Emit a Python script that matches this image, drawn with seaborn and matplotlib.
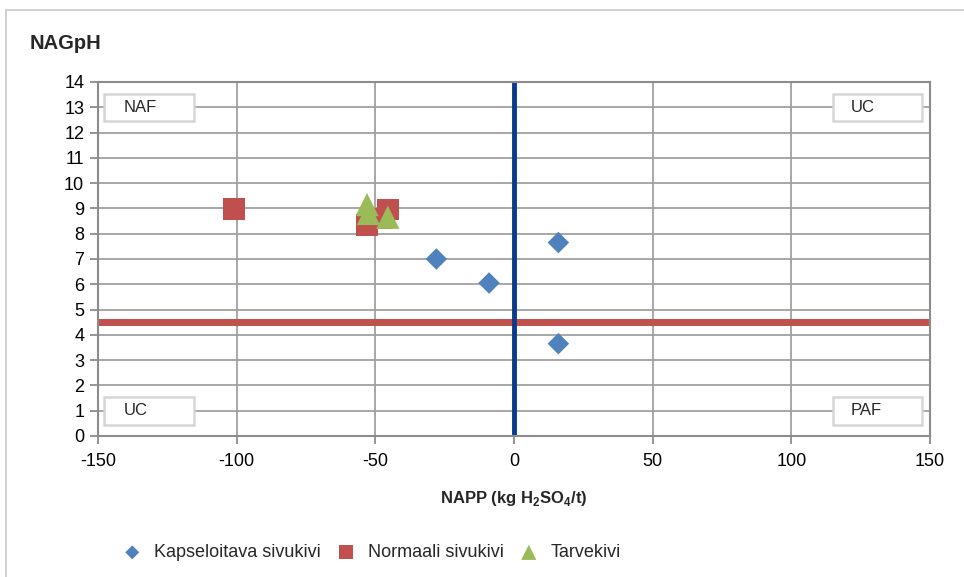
import pandas as pd
import numpy as np
import matplotlib
matplotlib.use("Agg")
import matplotlib.pyplot as plt
import seaborn as sns
from matplotlib.patches import Rectangle

sns.set_style("white")
plt.rcParams['font.family'] = ['Liberation Sans', 'DejaVu Sans']
plt.rcParams['mathtext.fontset'] = 'custom'
plt.rcParams['mathtext.rm'] = 'Liberation Sans'
plt.rcParams['mathtext.bf'] = 'Liberation Sans:bold'
plt.rcParams['axes.unicode_minus'] = False

# values
kaps_napp = [-28, -9, 16, 16]
kaps_nag = [7.0, 6.05, 7.65, 3.65]
norm_napp = [-101, -53, -48, -45.5]
norm_nag = [8.97, 8.35, 8.6, 8.95]
tarv_napp = [-53, -52.5, -45.5]
tarv_nag = [9.15, 8.8, 8.65]

groups = ['Kapseloitava sivukivi', 'Normaali sivukivi', 'Tarvekivi']
x_ticks = [-150, -100, -50, 0, 50, 100, 150]
y_ticks = list(range(0, 15))
nag_limit = 4.5
napp_limit = 0

data = pd.DataFrame({
    'NAPP': kaps_napp + norm_napp + tarv_napp,
    'NAGpH': kaps_nag + norm_nag + tarv_nag,
    'group': [groups[0]] * len(kaps_napp) + [groups[1]] * len(norm_napp) + [groups[2]] * len(tarv_napp),
})

palette = {groups[0]: '#4F81BD', groups[1]: '#C0504D', groups[2]: '#9BBB59'}
markers = {groups[0]: 'D', groups[1]: 's', groups[2]: '^'}
sizes = {groups[0]: 120, groups[1]: 240, groups[2]: 280}

fig = plt.figure(figsize=(9.64, 5.77), dpi=100)
ax = fig.add_axes([0.1017, 0.2444, 0.863, 0.6135])

# outer chart frame
fig.patches.append(Rectangle((0.006, -0.01), 1.0, 0.993, transform=fig.transFigure,
                             fill=False, edgecolor='#c8c8c8', linewidth=1.2))

ax.axhline(nag_limit, color='#C0504D', linewidth=5, zorder=2)
ax.axvline(napp_limit, color='#0A3A8A', linewidth=3.5, zorder=2)

for g in groups:
    sub = data[data['group'] == g]
    sns.scatterplot(data=sub, x='NAPP', y='NAGpH', ax=ax, color=palette[g],
                    marker=markers[g], s=sizes[g], edgecolor='none',
                    label=g, zorder=3)

ax.set_xlim(-150, 150)
ax.set_ylim(0, 14)
ax.set_xticks(x_ticks)
ax.set_yticks(y_ticks)
ax.grid(True, color='#a0a0a0', linewidth=1.3)
ax.set_axisbelow(True)
for sp in ax.spines.values():
    sp.set_color('#8c8c8c')
    sp.set_linewidth(1.5)
ax.tick_params(axis='both', labelsize=13, colors='#8c8c8c', labelcolor='black',
               length=6, width=1.3, direction='out', bottom=True, left=True)
ax.tick_params(axis='y', pad=4)
ax.tick_params(axis='x', pad=6)

ax.set_xlabel(r"NAPP (kg H$_\mathbf{2}$SO$_\mathbf{4}$/t)", fontsize=12,
              fontweight='bold', labelpad=14)
ax.set_ylabel('')
fig.text(0.031, 0.925, 'NAGpH', fontsize=14.5, fontweight='bold', va='center', ha='left')

# corner class labels (box x0, x1, y0, y1, text x, text y in axes fraction)
corners = [('NAF', 0.007, 0.115, 0.890, 0.966, 0.031, 0.928),
           ('UC', 0.883, 0.990, 0.890, 0.966, 0.905, 0.928),
           ('UC', 0.007, 0.115, 0.031, 0.110, 0.031, 0.071),
           ('PAF', 0.883, 0.990, 0.031, 0.110, 0.905, 0.071)]
for txt, x0, x1, y0, y1, tx, ty in corners:
    ax.add_patch(Rectangle((x0, y0), x1 - x0, y1 - y0, transform=ax.transAxes,
                           facecolor='white', edgecolor='#d6d6d6', linewidth=1.8, zorder=4))
    ax.text(tx, ty, txt, transform=ax.transAxes, fontsize=12, color='#262626',
            ha='left', va='center', zorder=5)

ax.legend(loc='upper left', bbox_to_anchor=(0.0216, -0.285), borderaxespad=0, ncol=3,
          frameon=False, fontsize=13, markerscale=0.65, handlelength=1.0,
          handletextpad=0.7, columnspacing=0.9)

fig.savefig('out.png', dpi=100, facecolor='white')
